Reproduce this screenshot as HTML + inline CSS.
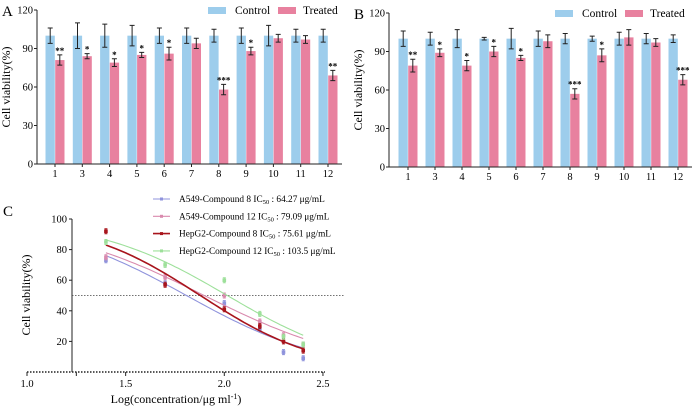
<!DOCTYPE html>
<html><head><meta charset="utf-8"><style>
body{margin:0;background:#fff}
svg{display:block}
svg text{font-family:"Liberation Serif","Times New Roman",serif}
</style></head><body>
<svg id="chart" width="700" height="408" viewBox="0 0 700 408" font-family="Liberation Serif, serif"></svg>
<script>
const categories=["1","3","4","5","6","7","8","9","10","11","12"];
const ctrlA=[100,100,100,100,100,100,100,100,100,100,100];
const ctrlErrA=[6,10,9,8,6,6,5,6,8,5,5];
const trtA=[81,84,79,85,86,94,58,88,98,97,69];
const trtErrA=[4,2,3,2,5,4,4,3,3,3,4];
const starsA=["**","*","*","*","*","","***","*","","","**"];
const ctrlB=[100,100,100,100,100,100,100,100,100,100,100];
const ctrlErrB=[6,5,7,1,8,6,4,2,5,4,3];
const trtB=[79,89,79,90,85,98,57,87,101,97,68];
const trtErrB=[5,3,4,4,2,5,4,5,6,3,4];
const starsB=["**","*","*","*","*","","***","*","","","***"];
const barTicks=[0,30,60,90,120];

const concX=[1.4,1.7,2.0,2.18,2.3,2.4];
const seriesNames=["A549-Compound 8","A549-Compound 12","HepG2-Compound 8","HepG2-Compound 12"];
const ic50Labels=["64.27","79.09","75.61","103.5"];
const ic50Vals=[64.27,79.09,75.61,103.5];
const hillSlopes=[1.23,1.1,1.44,1.3];
const vA549_8=[73,58,45,28,13,9];
const vA549_12=[75,62,50,33,24,18];
const vHep_8=[92,57,41,30,20,14];
const vHep_12=[85,70,60,38,23,18];
const cTicksY=[20,40,60,80,100];
const cTicksX=[1.0,1.5,2.0,2.5];

const svg=document.getElementById('chart');
const NS="http://www.w3.org/2000/svg";
function mk(tag,attrs,parent,text){const e=document.createElementNS(NS,tag);for(const k in attrs)e.setAttribute(k,attrs[k]);if(text!==undefined)e.textContent=text;(parent||svg).appendChild(e);return e;}
const CC="#9dcdec",TC="#e8819f";

function barPanel(label,ox,y0,y120,x1,step,ctrl,ce,trt,te,stars,lx){
  const g=mk('g',{});
  
  
  const y=v=>y0-(v/120)*(y0-y120);
  const t=mk('text',{x:ox-35,y:y120+6,'font-size':15},g,label);
  
  categories.forEach((c,i)=>{
    const cx=x1+i*step;
    const b1=mk('rect',{x:cx-9.5,y:y(ctrl[i]),width:9.3,height:y0-y(ctrl[i]),fill:CC},g);
    
    const b2=mk('rect',{x:cx+0.2,y:y(trt[i]),width:9.3,height:y0-y(trt[i]),fill:TC},g);
    
    [[cx-4.8,ctrl[i],ce[i]],[cx+4.8,trt[i],te[i]]].forEach(([ex,v,e])=>{
      const eb=mk('path',{d:`M${ex},${y(v+e)}V${y(v-e)}M${ex-2.5},${y(v+e)}h5M${ex-2.5},${y(v-e)}h5`,stroke:'#222','stroke-width':1,fill:'none'},g);
      
    });
    if(stars[i]){const s=mk('text',{x:cx+4.8,y:y(trt[i]+te[i])-1,'font-size':9,'text-anchor':'middle','font-weight':'bold'},g,stars[i]);
      }
    const tl=mk('text',{x:cx,y:y0+13,'font-size':10.5,'text-anchor':'middle'},g,c);
    
    mk('line',{x1:cx,x2:cx,y1:y0,y2:y0+3,stroke:'#222'},g);
  });
  barTicks.forEach(v=>{
    mk('line',{x1:ox-3,x2:ox,y1:y(v),y2:y(v),stroke:'#222'},g);
    const tl=mk('text',{x:ox-4,y:y(v)+3.5,'font-size':10.5,'text-anchor':'end'},g,v);
    
  });
  const ax=mk('path',{d:`M${ox},${y120}V${y0}H${x1+10*step+14}`,stroke:'#222',fill:'none','stroke-width':1},g);
  
  const yt=mk('text',{transform:`translate(${ox-27},${(y0+y120)/2}) rotate(-90)`,'font-size':12,'text-anchor':'middle'},g,'Cell viability(%)');
  
  const l1=mk('rect',{x:lx,y:y120-3,width:18,height:7,fill:CC},g);
  
  const l1t=mk('text',{x:lx+27,y:y120+4,'font-size':11.5},g,'Control');
  
  const l2=mk('rect',{x:lx+70,y:y120-3,width:18,height:7,fill:TC},g);
  
  const l2t=mk('text',{x:lx+95,y:y120+4,'font-size':11.5},g,'Treated');
  
}
barPanel('A',37,164,10,55,27.3,ctrlA,ctrlErrA,trtA,trtErrA,starsA,208);
barPanel('B',389,167,13,408,27,ctrlB,ctrlErrB,trtB,trtErrB,starsB,555);

// Panel C
const gc=mk('g',{});

const cy=v=>372-(v/100)*(372-219);
const cx=v=>27+(v-1)*197.3;
const pl=mk('text',{x:3,y:216,'font-size':15},gc,'C');

mk('path',{d:`M72,219V372`,stroke:'#222',fill:'none'},gc);
const xa=mk('line',{x1:27,x2:cx(2.5)+2,y1:372,y2:372,stroke:'#222','stroke-width':1.5,'stroke-dasharray':'1.5,1.5'},gc);

const ref=mk('line',{x1:72,x2:345,y1:cy(50),y2:cy(50),stroke:'#444','stroke-width':0.8,'stroke-dasharray':'1.5,1.5'},gc);

cTicksY.forEach(v=>{mk('line',{x1:69,x2:72,y1:cy(v),y2:cy(v),stroke:'#222'},gc);
  const t=mk('text',{x:67,y:cy(v)+3.5,'font-size':10.5,'text-anchor':'end'},gc,v);
  });
cTicksX.forEach(v=>{mk('line',{x1:cx(v),x2:cx(v),y1:372,y2:376,stroke:'#222'},gc);
  const t=mk('text',{x:cx(v),y:387,'font-size':10.5,'text-anchor':'middle'},gc,v.toFixed(1));
  });
mk('line',{x1:cx(1.25),x2:cx(1.25),y1:372,y2:376,stroke:'#222'},gc);
const yt=mk('text',{transform:`translate(30,295) rotate(-90)`,'font-size':12,'text-anchor':'middle'},gc,'Cell viability(%)');

const xt=mk('text',{x:176,y:403,'font-size':12,'text-anchor':'middle'},gc);

xt.appendChild(document.createTextNode('Log(concentration/μg ml'));
mk('tspan',{dy:-4,'font-size':8},xt,'-1');mk('tspan',{dy:4},xt,')');

const vals=[vA549_8,vA549_12,vHep_8,vHep_12];
const cols=["#8f93dc","#d98aae","#a8141c","#9de09a"];
vals.forEach((arr,k)=>{
  const lic=Math.log10(ic50Vals[k]);
  let d='';
  for(let i=0;i<=60;i++){const xv=1.4+i/60;const yv=100/(1+Math.pow(10,(xv-lic)*hillSlopes[k]));d+=(i?'L':'M')+cx(xv).toFixed(1)+','+cy(yv).toFixed(1);}
  const c=mk('path',{d,stroke:cols[k],fill:'none','stroke-width':k==2?1.6:1.1},gc);
  
  arr.forEach((v,i)=>{
    const px=cx(concX[i]),py=cy(v);
    mk('path',{d:`M${px},${py-2.5}V${py+2.5}M${px-1.5},${py-2.5}h3M${px-1.5},${py+2.5}h3`,stroke:cols[k],'stroke-width':1},gc);
    const m=mk('rect',{x:px-1.8,y:py-1.8,width:3.6,height:3.6,fill:cols[k]},gc);
    
  });
  const ly=199+k*17.3;
  const lg=mk('g',{},gc);
  
  mk('line',{x1:153,x2:170,y1:ly,y2:ly,stroke:cols[k],'stroke-width':k==2?1.6:1.1},lg);
  mk('rect',{x:160,y:ly-1.5,width:3,height:3,fill:cols[k]},lg);
  const t=mk('text',{x:179,y:ly+3,'font-size':9.3},lg,seriesNames[k]+'  IC');
  mk('tspan',{dy:2,'font-size':6.5},t,'50');
  mk('tspan',{dy:-2},t,' : '+ic50Labels[k]+' μg/mL');
});
</script>
</body></html>
